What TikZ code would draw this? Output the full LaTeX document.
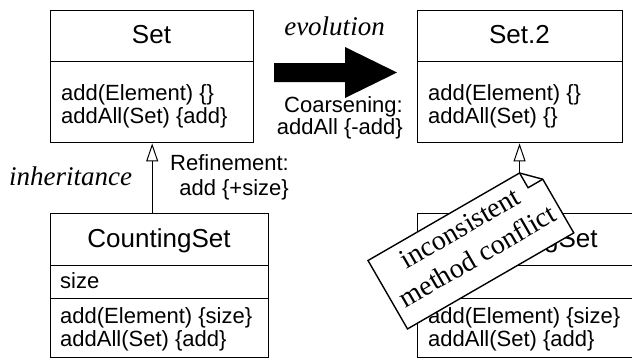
\documentclass[tikz,border=0pt]{standalone}
\usepackage{fontspec}
\usetikzlibrary{arrows.meta}
\newfontfamily\umlsans{Liberation Sans}
\newfontfamily\umlserif{Liberation Serif}
\newcommand\umltitle{\umlsans\fontsize{26}{30}\selectfont}
\newcommand\umlmeth{\umlsans\fontsize{22}{26}\selectfont}
\newcommand\umlital{\umlserif\itshape\fontsize{27}{31}\selectfont}
\newcommand\umlnote{\umlserif\fontsize{28}{33}\selectfont}
\tikzset{
  comp/.style={draw, line width=1.4pt, inner sep=0pt, anchor=north west},
  ttl/.style={font=\umltitle, anchor=base, inner sep=0pt},
  mth/.style={font=\umlmeth, anchor=base west, inner sep=0pt},
  lbl/.style={font=\umlmeth, anchor=base east, inner sep=0pt},
  itl/.style={font=\umlital, inner sep=0pt},
  inh/.style={line width=1pt, -{Triangle[open, length=18pt, width=12pt, line width=1pt]}},
  notebox/.style={draw, fill=white, line width=1.4pt, line join=miter},
  notetxt/.style={font=\umlnote, anchor=base, inner sep=0pt, rotate=30},
}
\begin{document}
\begin{tikzpicture}[x=1pt, y=-1pt]
\useasboundingbox (0,0) rectangle (632,360);
\clip (0,0) rectangle (632,360);
% Set
\node[comp, minimum width=203pt, minimum height=51pt] (sethead) at (50,10) {};
\node[comp, minimum width=203pt, minimum height=81pt] (setbody) at (50,61) {};
\node[ttl] (settitle) at (151.5,43) {Set};
\node[mth] (setm1) at (61,100) {add(Element) \{\}};
\node[mth] (setm2) at (61,123) {addAll(Set) \{add\}};
% Set.2
\node[comp, minimum width=205pt, minimum height=51pt] (settwohead) at (417,10) {};
\node[comp, minimum width=205pt, minimum height=81pt] (settwobody) at (417,61) {};
\node[ttl] (settwotitle) at (519.5,43) {Set.2};
\node[mth] (settwom1) at (428,100) {add(Element) \{\}};
\node[mth] (settwom2) at (428,123) {addAll(Set) \{\}};
% CountingSet left
\node[comp, minimum width=218pt, minimum height=52pt] (cshead) at (50,213) {};
\node[comp, minimum width=218pt, minimum height=33pt] (csattr) at (50,265) {};
\node[comp, minimum width=218pt, minimum height=59pt] (csbody) at (50,298) {};
\node[ttl] (cstitle) at (159,247) {CountingSet};
\node[mth] (csa1) at (60,288) {size};
\node[mth] (csm1) at (60,323) {add(Element) \{size\}};
\node[mth] (csm2) at (60,346) {addAll(Set) \{add\}};
% CountingSet right
\node[comp, minimum width=218pt, minimum height=52pt] (cstwohead) at (417,213) {};
\node[comp, minimum width=218pt, minimum height=33pt] (cstwoattr) at (417,265) {};
\node[comp, minimum width=218pt, minimum height=59pt] (cstwobody) at (417,298) {};
\node[ttl] (cstwotitle) at (526,247) {CountingSet};
\node[mth] (cstwom1) at (428,323) {add(Element) \{size\}};
\node[mth] (cstwom2) at (428,346) {addAll(Set) \{add\}};
% inheritance left
\draw[inh] (setbody.south |- cshead.north) -- (setbody.south);
% labels
\node[itl, anchor=base west] (inhlbl) at (9,185) {inheritance};
\node[lbl] (ref1) at (289,170) {Refinement:};
\node[lbl] (ref2) at (289,195) {add \{+size\}};
\node[itl, anchor=base] (evol) at (334.5,35) {evolution};
\node[lbl] (coa1) at (403,112) {Coarsening:};
\node[lbl] (coa2) at (403,134) {addAll \{-add\}};
% evolution arrow
\fill (274,63) -- (345,63) -- (345,47) -- (397,72.5) -- (345,98) -- (345,82) -- (274,82) -- cycle;
% note
\begin{scope}[shift={(368,260.5)}, rotate=30]
  \coordinate (notecorner) at (175,0);
  \draw[notebox] (0,0) -- (175,0) -- (192,17) -- (192,79) -- (0,79) -- cycle;
  \draw[line width=1.4pt, line join=miter] (175,0) -- (175,17) -- (192,17);
  \node[notetxt] (note1) at (96,27) {inconsistent};
  \node[notetxt] (note2) at (97,60) {method conflict};
\end{scope}
\draw[inh] (notecorner) -- (notecorner |- settwobody.south);
\end{tikzpicture}
\end{document}
